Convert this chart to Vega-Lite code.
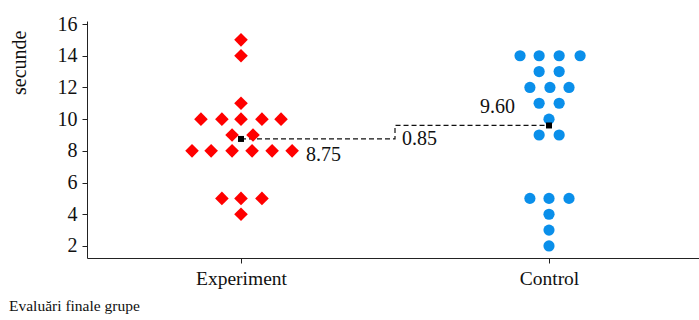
{
  "$schema": "https://vega.github.io/schema/vega-lite/v6.json",
  "autosize": "none",
  "width": 616,
  "height": 237,
  "padding": {"left": 87, "top": 21, "right": 0, "bottom": 62},
  "background": "white",
  "config": {
    "view": {"stroke": null},
    "font": "Liberation Serif",
    "axis": {"grid": false, "domainColor": "#222", "tickColor": "#222", "labelColor": "#111", "titleColor": "#111", "labelFont": "Liberation Serif", "titleFont": "Liberation Serif", "titleFontWeight": "normal", "labelOverlap": false, "labelBound": false}
  },
  "title": {"text": "Evaluări finale grupe", "orient": "bottom", "anchor": "start", "frame": "bounds", "dx": 0, "offset": 11, "fontSize": 15.5, "font": "Liberation Serif", "fontWeight": "normal", "color": "#111"},
  "datasets": {
    "points": [
      {"group": "Experiment", "x": 0.341, "secunde": 8},
      {"group": "Experiment", "x": 0.403, "secunde": 8},
      {"group": "Experiment", "x": 0.471, "secunde": 8},
      {"group": "Experiment", "x": 0.536, "secunde": 8},
      {"group": "Experiment", "x": 0.601, "secunde": 8},
      {"group": "Experiment", "x": 0.666, "secunde": 8},
      {"group": "Experiment", "x": 0.370, "secunde": 10},
      {"group": "Experiment", "x": 0.438, "secunde": 10},
      {"group": "Experiment", "x": 0.500, "secunde": 10},
      {"group": "Experiment", "x": 0.568, "secunde": 10},
      {"group": "Experiment", "x": 0.630, "secunde": 10},
      {"group": "Experiment", "x": 0.471, "secunde": 9},
      {"group": "Experiment", "x": 0.539, "secunde": 9},
      {"group": "Experiment", "x": 0.500, "secunde": 11},
      {"group": "Experiment", "x": 0.500, "secunde": 14},
      {"group": "Experiment", "x": 0.500, "secunde": 15},
      {"group": "Experiment", "x": 0.438, "secunde": 5},
      {"group": "Experiment", "x": 0.500, "secunde": 5},
      {"group": "Experiment", "x": 0.568, "secunde": 5},
      {"group": "Experiment", "x": 0.500, "secunde": 4},
      {"group": "Control", "x": 1.406, "secunde": 14},
      {"group": "Control", "x": 1.468, "secunde": 14},
      {"group": "Control", "x": 1.533, "secunde": 14},
      {"group": "Control", "x": 1.601, "secunde": 14},
      {"group": "Control", "x": 1.468, "secunde": 13},
      {"group": "Control", "x": 1.533, "secunde": 13},
      {"group": "Control", "x": 1.438, "secunde": 12},
      {"group": "Control", "x": 1.503, "secunde": 12},
      {"group": "Control", "x": 1.565, "secunde": 12},
      {"group": "Control", "x": 1.468, "secunde": 11},
      {"group": "Control", "x": 1.533, "secunde": 11},
      {"group": "Control", "x": 1.500, "secunde": 10},
      {"group": "Control", "x": 1.468, "secunde": 9},
      {"group": "Control", "x": 1.533, "secunde": 9},
      {"group": "Control", "x": 1.438, "secunde": 5},
      {"group": "Control", "x": 1.500, "secunde": 5},
      {"group": "Control", "x": 1.565, "secunde": 5},
      {"group": "Control", "x": 1.500, "secunde": 4},
      {"group": "Control", "x": 1.500, "secunde": 3},
      {"group": "Control", "x": 1.500, "secunde": 2}
    ],
    "means": [
      {"group": "Experiment", "x": 0.5, "secunde": 8.75, "label": "8.75"},
      {"group": "Control", "x": 1.5, "secunde": 9.60, "label": "9.60"}
    ],
    "diffline": [
      {"step": 1, "x": 0.5, "secunde": 8.75},
      {"step": 2, "x": 1.0, "secunde": 8.75},
      {"step": 3, "x": 1.0, "secunde": 9.60},
      {"step": 4, "x": 1.5, "secunde": 9.60}
    ],
    "diff": [
      {"x": 1.0, "secunde": 8.75, "label": "0.85"}
    ]
  },
  "encoding": {
    "x": {"field": "x", "type": "quantitative", "scale": {"domain": [0, 2], "nice": false, "zero": false},
      "axis": {"values": [0.5, 1.5], "labelExpr": "datum.value < 1 ? 'Experiment' : 'Control'", "title": null, "labelFontSize": 19.5, "tickSize": 5, "labelPadding": 6, "labelFlush": false}},
    "y": {"field": "secunde", "type": "quantitative", "scale": {"domain": [1.24, 16.19], "nice": false, "zero": false},
      "axis": {"values": [2, 4, 6, 8, 10, 12, 14, 16], "title": "secunde", "labelFontSize": 20, "tickSize": 5, "labelPadding": 5, "titleFontSize": 20, "titleX": -68, "titleY": 9, "titleAngle": -90, "titleAlign": "right", "titleBaseline": "middle"}}
  },
  "layer": [
    {
      "data": {"name": "diffline"},
      "mark": {"type": "line", "color": "#111", "strokeWidth": 1.2, "strokeDash": [5, 3]},
      "encoding": {
        "order": {"field": "step", "type": "quantitative"}
      }
    },
    {
      "data": {"name": "points"},
      "transform": [{"filter": "datum.group == 'Experiment'"}],
      "mark": {"type": "point", "shape": "diamond", "filled": true, "color": "#FF0000", "size": 185, "opacity": 1},
      "encoding": {}
    },
    {
      "data": {"name": "points"},
      "transform": [{"filter": "datum.group == 'Control'"}],
      "mark": {"type": "circle", "color": "#0A8FEA", "size": 125, "opacity": 1},
      "encoding": {}
    },
    {
      "data": {"name": "means"},
      "mark": {"type": "square", "color": "#000", "size": 36, "opacity": 1},
      "encoding": {}
    },
    {
      "data": {"name": "means"},
      "transform": [{"filter": "datum.group == 'Experiment'"}],
      "mark": {"type": "text", "align": "left", "baseline": "middle", "dx": 65, "dy": 16, "fontSize": 20, "font": "Liberation Serif", "color": "#111"},
      "encoding": {
        "text": {"field": "label"}
      }
    },
    {
      "data": {"name": "means"},
      "transform": [{"filter": "datum.group == 'Control'"}],
      "mark": {"type": "text", "align": "right", "baseline": "middle", "dx": -34, "dy": -18, "fontSize": 20, "font": "Liberation Serif", "color": "#111"},
      "encoding": {
        "text": {"field": "label"}
      }
    },
    {
      "data": {"name": "diff"},
      "mark": {"type": "text", "align": "left", "baseline": "middle", "dx": 7, "dy": 0, "fontSize": 20, "font": "Liberation Serif", "color": "#111"},
      "encoding": {
        "text": {"field": "label"}
      }
    }
  ]
}
